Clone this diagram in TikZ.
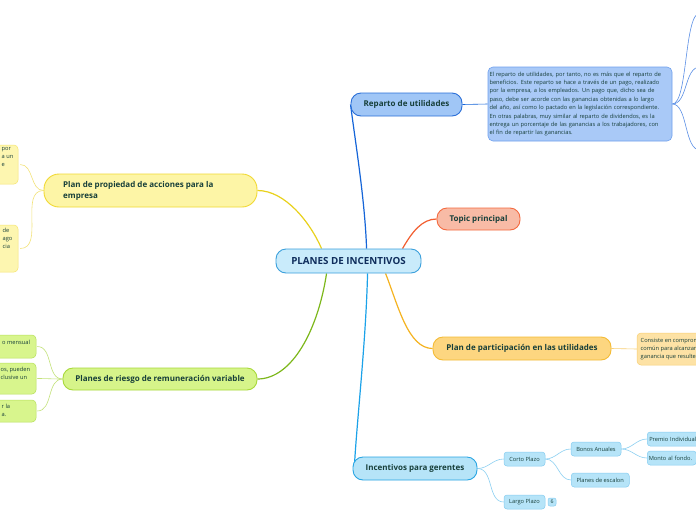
\documentclass[tikz,border=0pt]{standalone}
\usepackage{fontspec}
\setmainfont{Open Sans}
\usetikzlibrary{calc}
\pgfdeclarelayer{bg}
\pgfdeclarelayer{edges}
\pgfsetlayers{bg,edges,main}
\definecolor{txt}{HTML}{173F3A}
\definecolor{ctxt}{HTML}{0F2D5C}
\definecolor{cfill}{HTML}{C9EBFB}\definecolor{cdraw}{HTML}{3BA0DC}
\definecolor{rfill}{HTML}{A0C6F6}\definecolor{rdraw}{HTML}{2A6FD8}\definecolor{redge}{HTML}{1565D8}
\definecolor{rtfill}{HTML}{A9C9F7}\definecolor{rtdraw}{HTML}{6FA0EE}\definecolor{rtedge}{HTML}{5B8FE6}
\definecolor{tfill}{HTML}{F8BBA6}\definecolor{tdraw}{HTML}{F46A3F}\definecolor{tedge}{HTML}{F25E30}
\definecolor{pfill}{HTML}{FDD680}\definecolor{pdraw}{HTML}{F4BB35}\definecolor{pedge}{HTML}{F5B320}
\definecolor{ptfill}{HTML}{FDE2A5}\definecolor{ptdraw}{HTML}{F8CF74}
\definecolor{yfill}{HTML}{FDF5A6}\definecolor{ydraw}{HTML}{F1D934}\definecolor{yedge}{HTML}{E9D11C}
\definecolor{ysfill}{HTML}{FDF6B0}\definecolor{ysdraw}{HTML}{F6E570}\definecolor{ysedge}{HTML}{F3E37A}
\definecolor{gfill}{HTML}{D6F48A}\definecolor{gdraw}{HTML}{A8D93A}\definecolor{gedge}{HTML}{7DB81B}
\definecolor{gsfill}{HTML}{D8F58D}\definecolor{gsdraw}{HTML}{B6E05A}\definecolor{gsedge}{HTML}{C3E27A}
\definecolor{bfill}{HTML}{B6E4F8}\definecolor{bdraw}{HTML}{28A5E3}\definecolor{bedge}{HTML}{1BA2E9}
\definecolor{bsdraw}{HTML}{86CDF1}\definecolor{bsedge}{HTML}{8DD0F2}
\begin{document}
\begin{tikzpicture}[x=1pt,y=-1pt,
  mainbox/.style={draw, line width=0.9pt, rounded corners=10pt, inner sep=0pt,
    minimum height=23pt, text=txt, font=\fontsize{8}{11}\selectfont\bfseries},
  smallbox/.style={draw, line width=0.5pt, rounded corners=3pt, inner sep=0pt,
    minimum height=14pt, text=txt, font=\fontsize{5.7}{8.2}\selectfont},
  smalltext/.style={inner sep=0pt, text=txt, align=left, font=\fontsize{5.7}{8.2}\selectfont},
  trunk/.style={line width=1.2pt},
  twig/.style={line width=0.6pt}]
\useasboundingbox (0,0) rectangle (696,520);
\clip (0,0) rectangle (696,520);
\begin{pgfonlayer}{bg}
\fill[white] (0,0) rectangle (696,520);
\end{pgfonlayer}

% nodes
\node[mainbox, fill=cfill, draw=cdraw, minimum width=145pt, minimum height=24pt,
  text=ctxt, font=\fontsize{9.8}{11}\selectfont\bfseries] (central) at (348.5,261) {PLANES DE INCENTIVOS};
\node[mainbox, fill=rfill, draw=rdraw, minimum width=111pt] (reparto) at (406.5,104.5) {Reparto de utilidades};
\node[draw=rtdraw, fill=rtfill, line width=0.6pt, rounded corners=5pt, minimum width=184pt, minimum height=74pt,
  inner xsep=1.5pt, inner ysep=0pt, text width=181pt, align=left, text=txt,
  font=\fontsize{5.7}{8.4}\selectfont] (reptext) at (580,104)
  {El reparto de utilidades, por tanto, no es más que el reparto de\\
   beneficios. Este reparto se hace a través de un pago, realizado\\
   por la empresa, a los empleados. Un pago que, dicho sea de\\
   paso, debe ser acorde con las ganancias obtenidas a lo largo\\
   del año, así como lo pactado en la legislación correspondiente.\\
   En otras palabras, muy similar al reparto de dividendos, es la\\
   entrega un porcentaje de las ganancias a los trabajadores, con\\
   el fin de repartir las ganancias.};
\coordinate (rc1) at (700,13);
\coordinate (rc2) at (700,67);
\coordinate (rc3) at (700,150);

\node[mainbox, fill=tfill, draw=tdraw, minimum width=83pt, minimum height=22pt] (topic) at (478.5,219) {Topic principal};

\node[mainbox, fill=pfill, draw=pdraw, minimum width=178pt] (partic) at (522,348.5) {Plan de participación en las utilidades};
\node[draw=ptdraw, fill=ptfill, line width=0.5pt, rounded corners=4pt, minimum width=90pt, minimum height=32pt,
  inner sep=0pt] (partext) at (682,349) {};
\node[smalltext, anchor=west] (partextt) at (640.5,349) {Consiste en comprom\\común para alcanzar\\ganancia que resulte};

\node[mainbox, fill=bfill, draw=bdraw, minimum width=124pt] (incent) at (415,468.5) {Incentivos para gerentes};
\node[smallbox, fill=bfill, draw=bsdraw, minimum width=41pt] (corto) at (524.5,459) {Corto Plazo};
\node[smallbox, fill=bfill, draw=bsdraw, minimum width=41pt] (largo) at (524.5,502) {Largo Plazo};
\node[draw=bsdraw, fill=bfill, line width=0.5pt, rounded corners=2pt, minimum width=8pt, minimum height=8pt,
  inner sep=0pt, text=txt, font=\fontsize{5.2}{6}\selectfont] (badge) at (552,502) {6};
\node[smallbox, fill=bfill, draw=bsdraw, minimum width=50pt] (bonos) at (596,449) {Bonos Anuales};
\node[smallbox, fill=bfill, draw=bsdraw, minimum width=58pt, anchor=west] (escalon) at (571,480) {Planes de escalon};
\node[smallbox, fill=bfill, draw=bsdraw, minimum width=64pt, anchor=west, align=left, text width=60pt] (premio) at (647,439) {Premio Individual};
\node[smallbox, fill=bfill, draw=bsdraw, minimum width=49pt, anchor=west, align=left, text width=46pt] (monto) at (647,458) {Monto al fondo.};

\node[draw=ydraw, fill=yfill, line width=0.9pt, rounded corners=15pt, minimum width=213pt, minimum height=33pt,
  inner sep=0pt] (propiedad) at (150.5,190.5) {};
\node[anchor=west, inner sep=0pt, align=left, text=txt, font=\fontsize{8}{11}\selectfont\bfseries]
  (propiedadt) at (63,191) {Plan de propiedad de acciones para la\\empresa};
\node[draw=ysdraw, fill=ysfill, line width=0.5pt, rounded corners=4pt, minimum width=58pt, minimum height=39pt,
  inner sep=0pt] (prop1) at (-11,164.5) {};
\node[smalltext, anchor=north west] (prop1t) at (1.5,147) {por\\a un\\e};
\node[draw=ysdraw, fill=ysfill, line width=0.5pt, rounded corners=4pt, minimum width=58pt, minimum height=47pt,
  inner sep=0pt] (prop2) at (-11,248.5) {};
\node[smalltext, anchor=north west] (prop2t) at (2.5,228) {de\\ago\\cia};

\node[mainbox, fill=gfill, draw=gdraw, minimum width=194pt, minimum height=22pt] (riesgo) at (160,379) {Planes de riesgo de remuneración variable};
\node[draw=gsdraw, fill=gsfill, line width=0.5pt, rounded corners=4pt, minimum width=86pt, minimum height=23pt,
  inner sep=0pt] (r1) at (-7,346.5) {};
\node[smalltext, anchor=north west] (r1t) at (2,339.5) {o mensual};
\node[draw=gsdraw, fill=gsfill, line width=0.5pt, rounded corners=4pt, minimum width=86pt, minimum height=31pt,
  inner sep=0pt] (r2) at (-7,378.5) {};
\node[smalltext, anchor=north west] (r2t) at (0.5,367) {os, pueden\\clusive un};
\node[draw=gsdraw, fill=gsfill, line width=0.5pt, rounded corners=4pt, minimum width=86pt, minimum height=22pt,
  inner sep=0pt] (r3) at (-7,411) {};
\node[smalltext, anchor=north west] (r3t) at (1.5,403.5) {r la\\a.};

\begin{pgfonlayer}{edges}
% main edges
\draw[trunk, redge] ($(central.north west)+(91,0)$) .. controls (365,200) and (355,140) .. (reparto.west);
\draw[trunk, tedge] ($(central.north west)+(127,0)$) .. controls (412,232) and (422,219) .. (topic.west);
\draw[trunk, pedge] ($(central.south west)+(110,0)$) .. controls (398,305) and (408,348.5) .. (partic.west);
\draw[trunk, bedge] ($(central.south west)+(92,0)$) .. controls (366,340) and (357,420) .. ($(incent.west)+(2,-5)$);
\draw[trunk, yedge] ($(central.north west)+(46,0)$) .. controls (310,222) and (285,190.5) .. (propiedad.east);
\draw[trunk, gedge] ($(central.south west)+(51,0)$) .. controls (318,330) and (292,379) .. (riesgo.east);

% sub edges
\draw[twig, redge] (reparto.east) -- (reptext.west);
\draw[twig, rtedge] (reptext.east) .. controls (688,104) and (684,13) .. (rc1);
\draw[twig, rtedge] (reptext.east) .. controls (688,104) and (684,67) .. (rc2);
\draw[twig, rtedge] (reptext.east) .. controls (688,104) and (684,150) .. (rc3);
\draw[twig, ptdraw] (partic.east) -- (partext.west);
\draw[twig, bsedge] (incent.east) to[out=0,in=180] (corto.west);
\draw[twig, bsedge] (incent.east) to[out=0,in=180] (largo.west);
\draw[twig, bsedge] (corto.east) to[out=0,in=180] (bonos.west);
\draw[twig, bsedge] (corto.east) to[out=0,in=180] (escalon.west);
\draw[twig, bsedge] (bonos.east) to[out=0,in=180] (premio.west);
\draw[twig, bsedge] (bonos.east) to[out=0,in=180] (monto.west);
\draw[twig, ysedge] (propiedad.west) to[out=180,in=0] ($(prop1.east)+(2,0)$);
\draw[twig, ysedge] (propiedad.west) to[out=180,in=0] ($(prop2.east)+(2,0)$);
\draw[twig, gsedge] (riesgo.west) to[out=180,in=0] ($(r1.east)+(1,0)$);
\draw[twig, gsedge] (riesgo.west) to[out=180,in=0] ($(r2.east)+(1,0)$);
\draw[twig, gsedge] (riesgo.west) to[out=180,in=0] ($(r3.east)+(1,0)$);
\end{pgfonlayer}
\end{tikzpicture}
\end{document}
